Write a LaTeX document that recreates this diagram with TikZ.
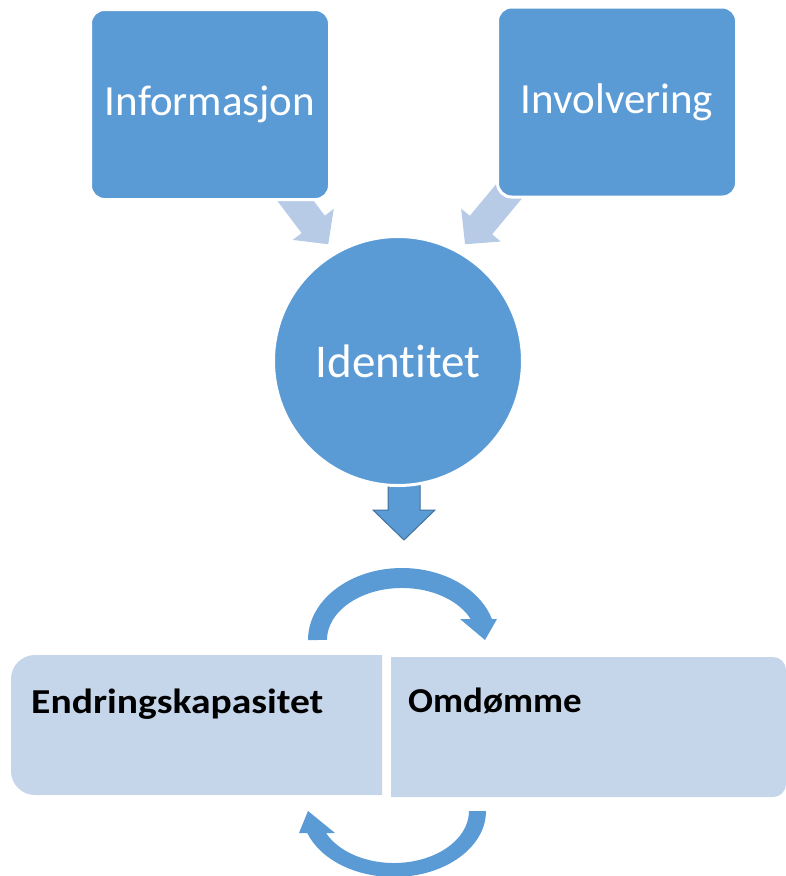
\documentclass[tikz,border=0pt]{standalone}
\usepackage{fontspec}
\setmainfont{Carlito}[Ligatures=NoCommon]
\usetikzlibrary{arrows.meta,calc}
\definecolor{mainblue}{HTML}{5B9BD5}
\definecolor{paleblue}{HTML}{B7CBE7}
\definecolor{boxblue}{HTML}{C5D5EA}
\definecolor{edgeblue}{HTML}{41719C}
\pgfdeclarelayer{bg}
\pgfsetlayers{bg,main}
\begin{document}
\begin{tikzpicture}[x=1pt,y=-1pt,
  topbox/.style={rectangle, rounded corners=14pt, fill=mainblue, draw=white,
    line width=3pt, minimum width=239pt, minimum height=190pt, text=white,
    font=\fontsize{43}{50}\selectfont, inner sep=0pt},
  hub/.style={circle, fill=mainblue, draw=white, line width=3pt,
    minimum size=249pt, text=white, font=\fontsize{47}{56}\selectfont, inner sep=0pt},
  feed/.style={draw=paleblue, line width=29pt, -{Triangle[width=50pt,length=25pt]}},
  blockarrow/.style={fill=mainblue, draw=edgeblue, line width=1pt, line join=miter},
  cyclearrow/.style={fill=mainblue},
  panel/.style={fill=boxblue},
  panellabel/.style={anchor=base west, inner sep=0pt, text=black,
    font=\fontsize{35}{42}\selectfont\bfseries}
]
\useasboundingbox (0,0) rectangle (785,876);

% sources and the central identity
\node[topbox] (info)  at (210,104.5) {Informasjon};
\node[topbox] (invol) at (617,102)   {Involvering};
\node[hub]    (ident) at (398,361)   {Identitet};

% pale feed arrows and the block arrow, kept behind the shapes
\begin{pgfonlayer}{bg}
  \coordinate (tipL) at (328.3,244.3);
  \coordinate (tipR) at (465,244.3);
  \draw[feed] ($(info.center)+(58,60)$) -- (tipL);
  \draw[feed] ($(invol.center)+(-88,65.3)$) -- (tipR);
  \coordinate (tipD) at (404,540);
  \draw[blockarrow] ($(ident.center)+(-10,110)$) -- ++(0,39) -- ++(-15,0)
    -- (tipD) -- ++(31,-30) -- ++(-15,0) -- ++(0,-39) -- cycle;
\end{pgfonlayer}

% the two panels
\fill[panel, rounded corners=24pt] (200,795) -- (11,795) -- (11,655) -- (200,655)
  [sharp corners] -- (382,655) -- (382,795) -- cycle;
\fill[panel, rounded corners=13pt] (600,657) -- (786,657) -- (786,797) -- (600,797)
  [sharp corners] -- (391,797) -- (391,657) -- cycle;
\node[panellabel, xscale=1.13] (endr) at (31,713) {Endringskapasitet};
\node[panellabel, xscale=1.055] (omd)  at (408,712) {Omdømme};

% cycle arrows above and below the panels
\fill[cyclearrow] (308,640) arc[start angle=180, end angle=343.04, x radius=94, y radius=72]
  -- (497,619) -- (485,640) -- (460,619) -- (470.6,619)
  arc[start angle=336.2, end angle=180, x radius=75, y radius=52] -- cycle;
\fill[cyclearrow] (486,811) arc[start angle=0, end angle=160.53, x radius=92, y radius=66]
  -- (299,833) -- (308,811) -- (335,833) -- (326,833)
  arc[start angle=154.97, end angle=0, x radius=75, y radius=52] -- cycle;
\end{tikzpicture}
\end{document}
